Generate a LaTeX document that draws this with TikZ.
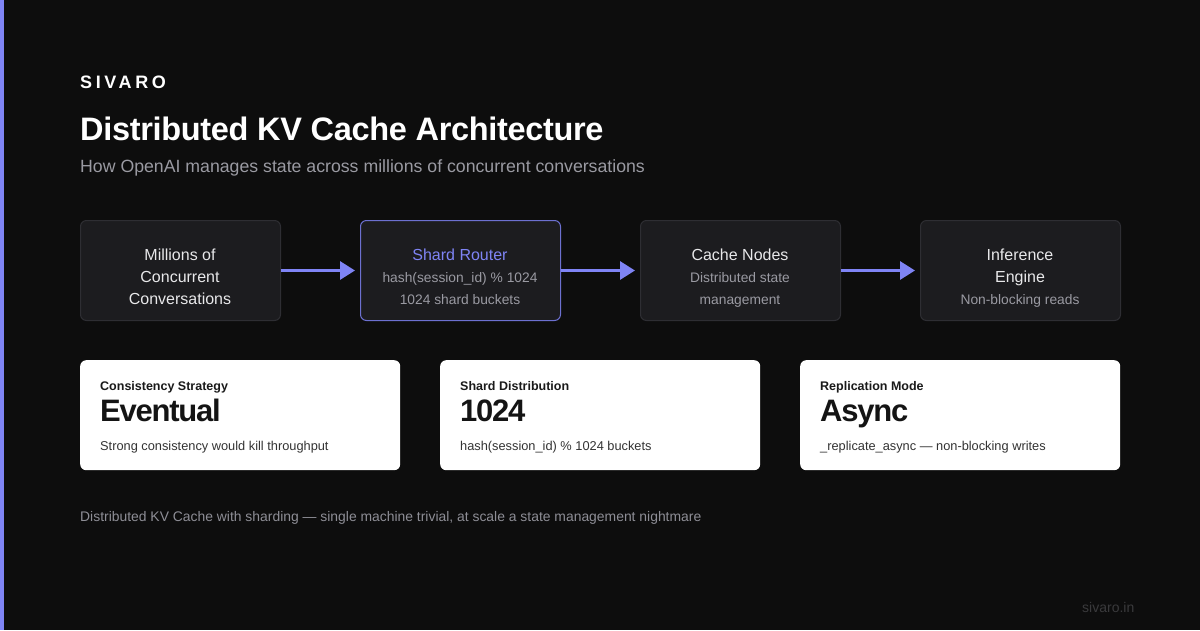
\documentclass[tikz,border=0pt]{standalone}
\usepackage{fontspec}
\setmainfont{Liberation Sans}
\usetikzlibrary{arrows.meta}
\definecolor{bg}{HTML}{0D0D0D}
\definecolor{accent}{HTML}{7F84F5}
\definecolor{boxfill}{HTML}{1C1C1F}
\definecolor{boxline}{HTML}{2E2E33}
\definecolor{maintext}{HTML}{E8E8EA}
\definecolor{subtext}{HTML}{9A9AA2}
\definecolor{cardlabel}{HTML}{1A1A1A}
\definecolor{cardval}{HTML}{141414}
\definecolor{carddesc}{HTML}{333333}
\definecolor{footgray}{HTML}{8E8E96}
\definecolor{markgray}{HTML}{3A3A3C}
\tikzset{
  flowbox/.style={draw=boxline, line width=1pt, fill=boxfill, rounded corners=6pt, minimum width=200pt, minimum height=100pt, anchor=north west, inner sep=0pt},
  hlbox/.style={flowbox, draw=accent!85!black},
  card/.style={fill=white, rounded corners=6pt, minimum width=320pt, minimum height=110pt, anchor=north west, inner sep=0pt},
  flowarrow/.style={draw=accent, line width=3pt, -{Triangle[length=15pt,width=18pt]}, shorten >=5pt},
  ftitle/.style={text=maintext, font=\fontsize{16}{22}\selectfont, align=center, inner sep=0pt, anchor=base},
  fsub/.style={text=subtext, font=\fontsize{13.8}{22}\selectfont, align=center, inner sep=0pt, anchor=base},
  clabel/.style={text=cardlabel, font=\fontsize{12.5}{16}\selectfont\bfseries, anchor=base west, inner sep=0pt},
  cval/.style={text=cardval, font=\fontsize{31}{36}\selectfont\bfseries\addfontfeature{LetterSpace=-4}, anchor=base west, inner sep=0pt},
  cdesc/.style={text=carddesc, font=\fontsize{12.8}{16}\selectfont, anchor=base west, inner sep=0pt},
}
\begin{document}
\begin{tikzpicture}[x=1pt,y=-1pt]
\fill[bg] (0,0) rectangle (1200,630);
\useasboundingbox (0,0) rectangle (1200,630);
\fill[accent] (0,0) rectangle (4,630);

% header
\node[anchor=base west, inner sep=0pt, text=white, font=\fontsize{18}{20}\selectfont\bfseries\addfontfeature{LetterSpace=20}] (brand) at (80,88) {SIVARO};
\node[anchor=base west, inner sep=0pt, text=white, font=\fontsize{32.5}{38}\selectfont\bfseries\addfontfeature{LetterSpace=-1}] (title) at (80,140) {Distributed KV Cache Architecture};
\node[anchor=base west, inner sep=0pt, text=subtext, font=\fontsize{17.7}{20}\selectfont] (subtitle) at (80,172) {How OpenAI manages state across millions of concurrent conversations};

% flow boxes
\node[flowbox] (b1) at (80,220) {};
\node[hlbox] (b2) at (360,220) {};
\node[flowbox] (b3) at (640,220) {};
\node[flowbox] (b4) at (920,220) {};

\node[ftitle] (t1a) at (180,260) {Millions of};
\node[ftitle] (t1b) at (180,282) {Concurrent};
\node[ftitle] (t1c) at (180,304) {Conversations};

\node[ftitle, text=accent] (t2a) at (460,260) {Shard Router};
\node[fsub] (t2b) at (460,282) {hash(session\_id) \% 1024};
\node[fsub] (t2c) at (460,304) {1024 shard buckets};

\node[ftitle] (t3a) at (740,260) {Cache Nodes};
\node[fsub] (t3b) at (740,282) {Distributed state};
\node[fsub] (t3c) at (740,304) {management};

\node[ftitle] (t4a) at (1020,260) {Inference};
\node[ftitle] (t4b) at (1020,282) {Engine};
\node[fsub] (t4c) at (1020,304) {Non-blocking reads};

\draw[flowarrow] (b1.east) -- (b2.west);
\draw[flowarrow] (b2.east) -- (b3.west);
\draw[flowarrow] (b3.east) -- (b4.west);

% cards
\node[card] (c1) at (80,360) {};
\node[card] (c2) at (440,360) {};
\node[card] (c3) at (800,360) {};

\node[clabel] (l1) at (100,390) {Consistency Strategy};
\node[cval] (v1) at (100,421) {Eventual};
\node[cdesc] (d1) at (100,450) {Strong consistency would kill throughput};

\node[clabel] (l2) at (460,390) {Shard Distribution};
\node[cval] (v2) at (460,421) {1024};
\node[cdesc] (d2) at (460,450) {hash(session\_id) \% 1024 buckets};

\node[clabel] (l3) at (820,390) {Replication Mode};
\node[cval] (v3) at (820,421) {Async};
\node[cdesc] (d3) at (820,450) {\_replicate\_async — non-blocking writes};

% footer
\node[anchor=base west, inner sep=0pt, text=footgray, font=\fontsize{13.9}{16}\selectfont] (foot) at (80,521) {Distributed KV Cache with sharding — single machine trivial, at scale a state management nightmare};
\node[anchor=base west, inner sep=0pt, text=markgray, font=\fontsize{14}{16}\selectfont] (mark) at (1082,612) {sivaro.in};
\end{tikzpicture}
\end{document}
